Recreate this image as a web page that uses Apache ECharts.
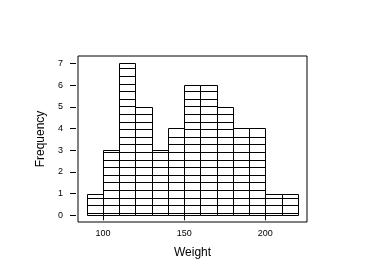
<!DOCTYPE html>
<html>
<head>
<meta charset="utf-8">
<script src="https://cdn.jsdelivr.net/npm/echarts@6/dist/echarts.min.js"></script>
<style>html,body{margin:0;padding:0;background:#fff;}#c{width:384px;height:278px;}</style>
</head>
<body>
<div id="c"></div>
<script>
const binStart = [90,100,110,120,130,140,150,160,170,180,190,200,210];
const binEnd   = [100,110,120,130,140,150,160,170,180,190,200,210,220];
const freq     = [1,3,7,5,3,4,6,6,5,4,4,1,1];
const xTicks = [100,150,200];
const yTicks = [0,1,2,3,4,5,6,7];

const data = binStart.map((s,i)=>[s, binEnd[i], freq[i]]);
const chart = echarts.init(document.getElementById('c'), null, {renderer:'canvas'});
const font = 'Liberation Sans, Arial, sans-serif';
function snap(v){ return Math.round(v) + 0.5; }
chart.setOption({
  animation:false,
  backgroundColor:'#fff',
  grid:{left:78, top:56, right:77, bottom:56, show:true, borderColor:'#000', borderWidth:1, backgroundColor:'transparent'},
  xAxis:{
    type:'value', min:84.6, max:225.7,
    name:'Weight', nameLocation:'middle', nameGap:25,
    nameTextStyle:{fontFamily:font, fontSize:12, color:'#000'},
    axisLine:{show:false},
    splitLine:{show:false},
    axisTick:{show:true, customValues:xTicks, length:5, lineStyle:{color:'#000'}},
    axisLabel:{customValues:xTicks, fontFamily:font, fontSize:9, color:'#000', margin:7}
  },
  yAxis:{
    type:'value', min:-0.31, max:7.34, offset:2,
    name:'Frequency', nameLocation:'middle', nameGap:22,
    nameTextStyle:{fontFamily:font, fontSize:12, color:'#000'},
    axisLine:{show:false},
    splitLine:{show:false},
    axisTick:{show:true, customValues:yTicks, length:6, lineStyle:{color:'#000'}},
    axisLabel:{customValues:yTicks, fontFamily:font, fontSize:9, color:'#000', margin:13}
  },
  series:[{
    type:'custom',
    data:data,
    encode:{x:[0,1], y:2},
    clip:true,
    renderItem:function(params, api){
      const p0 = api.coord([api.value(0), 0]);
      const p1 = api.coord([api.value(1), api.value(2)]);
      const x0 = snap(p0[0]), x1 = snap(p1[0]);
      const yb = snap(p0[1]), yt = snap(p1[1]);
      const children = [{
        type:'rect',
        shape:{x:x0, y:yt, width:x1-x0, height:yb-yt},
        style:{fill:'#fff', stroke:'#000', lineWidth:1}
      }];
      for (let yy = p0[1]-2.4; yy > p1[1]+1.5; yy -= 7.6) {
        const ys = snap(yy);
        children.push({type:'line', shape:{x1:x0, y1:ys, x2:x1, y2:ys}, style:{stroke:'#000', lineWidth:1}});
      }
      return {type:'group', children:children};
    }
  }]
});
</script>
</body>
</html>
